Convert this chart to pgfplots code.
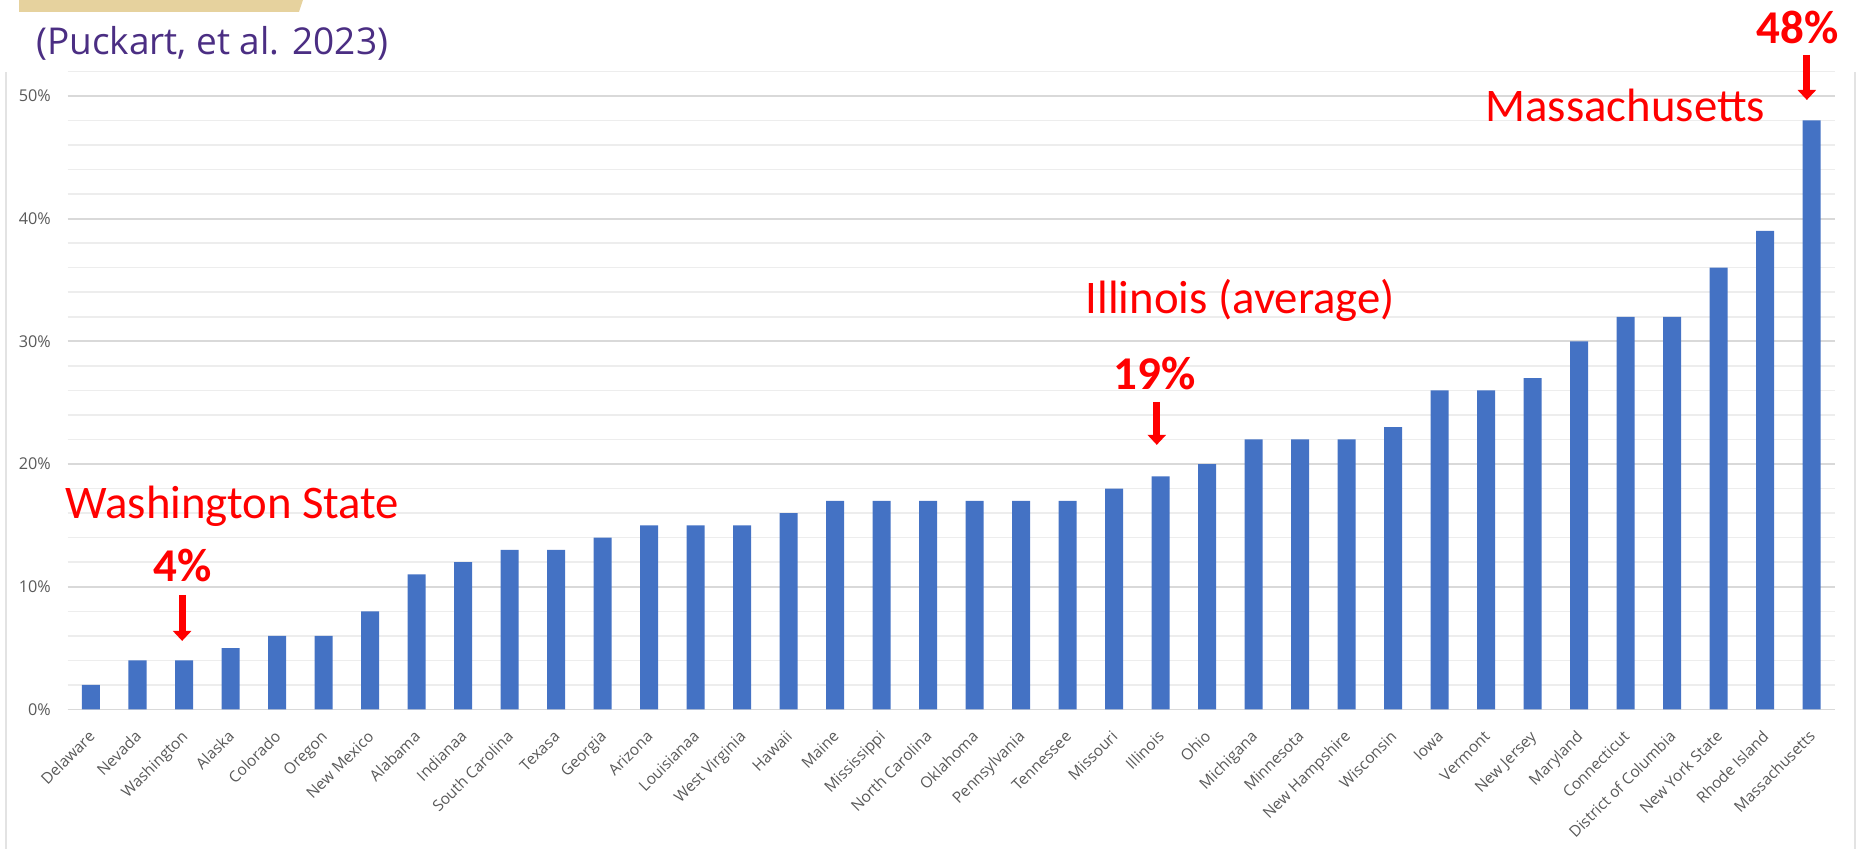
\documentclass[border=0pt]{standalone}
\usepackage{pgfplots}
\pgfplotsset{compat=1.18}
\usepackage{fontspec}
\setmainfont{Open Sans}
\newfontfamily\calib{Carlito}
\usetikzlibrary{arrows.meta}
\definecolor{barblue}{HTML}{4472C4}
\definecolor{ticklab}{HTML}{595959}
\definecolor{majgrid}{HTML}{D9D9D9}
\definecolor{mingrid}{HTML}{EDEDED}
\definecolor{titlepurple}{HTML}{4B2E83}
\definecolor{gold}{HTML}{E6D29E}
\definecolor{bordergray}{HTML}{E3E3E3}
\pgfplotstableread{
idx val
0 2
1 4
2 4
3 5
4 6
5 6
6 8
7 11
8 12
9 13
10 13
11 14
12 15
13 15
14 15
15 16
16 17
17 17
18 17
19 17
20 17
21 17
22 18
23 19
24 20
25 22
26 22
27 22
28 23
29 26
30 26
31 27
32 30
33 32
34 32
35 36
36 39
37 48
}\statedata
\begin{document}
\begin{tikzpicture}
\begin{axis}[
  scale only axis, width=706.8pt, height=255.2pt,
  xmin=-0.5, xmax=37.5, ymin=0, ymax=52,
  ybar, bar width=7.2pt,
  clip=false,
  axis line style={draw=none},
  major tick length=0pt, minor tick length=0pt,
  ytick={0,10,20,30,40,50},
  yticklabels={0\%,10\%,20\%,30\%,40\%,50\%},
  minor ytick={2,4,6,8,12,14,16,18,22,24,26,28,32,34,36,38,42,44,46,48,52},
  ymajorgrids, yminorgrids,
  major grid style={majgrid, line width=0.7pt},
  minor grid style={mingrid, line width=0.6pt},
  xtick={0,...,37},
  xticklabels={Delaware,Nevada,Washington,Alaska,Colorado,Oregon,New Mexico,Alabama,Indianaa,South Carolina,Texasa,Georgia,Arizona,Louisianaa,West Virginia,Hawaii,Maine,Mississippi,North Carolina,Oklahoma,Pennsylvania,Tennessee,Missouri,Illinois,Ohio,Michigana,Minnesota,New Hampshire,Wisconsin,Iowa,Vermont,New Jersey,Maryland,Connecticut,District of Columbia,New York State,Rhode Island,Massachusetts},
  xticklabel style={xshift=2pt, yshift=-11.2pt, rotate=45, anchor=base east, inner sep=0pt, text=ticklab, font=\fontsize{6.2}{7}\selectfont},
  yticklabel style={anchor=east, inner sep=0pt, xshift=-6.6pt, text=ticklab, font=\fontsize{6.5}{7}\selectfont},
]
\path (axis cs:-1.957,-11.37) rectangle (axis cs:38.086,57.82);
\fill[gold] (axis cs:-1.548,57.82) -- (axis cs:4.559,57.82) -- (axis cs:4.473,56.85) -- (axis cs:-1.548,56.85) -- cycle;
\node[anchor=base west, inner sep=0pt, text=titlepurple, font=\fontsize{14.8}{16}\selectfont] at (axis cs:-1.19,53.4) {(Puckart, et al. 2023)};
\draw[bordergray, line width=0.8pt] (axis cs:-1.828,-11.37) -- (axis cs:-1.828,51.96);
\draw[bordergray, line width=0.8pt] (axis cs:37.935,-11.37) -- (axis cs:37.935,51.96);
\addplot[fill=barblue, draw=none] table[x=idx, y=val] {\statedata};
\node[anchor=base west, inner sep=0pt, text=red, font=\calib\fontsize{18.7}{20}\selectfont] at (axis cs:-0.56,15.6) {Washington State};
\node[anchor=base, inner sep=0pt, text=red, font=\calib\bfseries\fontsize{18.8}{20}\selectfont] at (axis cs:1.97,10.4) {4\%};
\draw[red, line width=2.8pt, -{Triangle[width=7.2pt,length=4pt]}] (axis cs:1.96,9.33) -- (axis cs:1.96,5.58);
\node[anchor=base west, inner sep=0pt, text=red, font=\calib\fontsize{18.7}{20}\selectfont] at (axis cs:21.38,32.3) {Illinois (average)};
\node[anchor=base, inner sep=0pt, text=red, font=\calib\bfseries\fontsize{18.8}{20}\selectfont] at (axis cs:22.88,26.04) {19\%};
\draw[red, line width=2.8pt, -{Triangle[width=7.2pt,length=4pt]}] (axis cs:22.92,25.06) -- (axis cs:22.92,21.56);
\node[anchor=base west, inner sep=0pt, text=red, font=\calib\fontsize{18.7}{20}\selectfont] at (axis cs:29.98,47.88) {Massachusetts};
\node[anchor=base, inner sep=0pt, text=red, font=\calib\bfseries\fontsize{18.8}{20}\selectfont] at (axis cs:36.7,54.3) {48\%};
\draw[red, line width=2.8pt, -{Triangle[width=7.2pt,length=4pt]}] (axis cs:36.9,53.34) -- (axis cs:36.9,49.67);
\end{axis}
\end{tikzpicture}
\end{document}
